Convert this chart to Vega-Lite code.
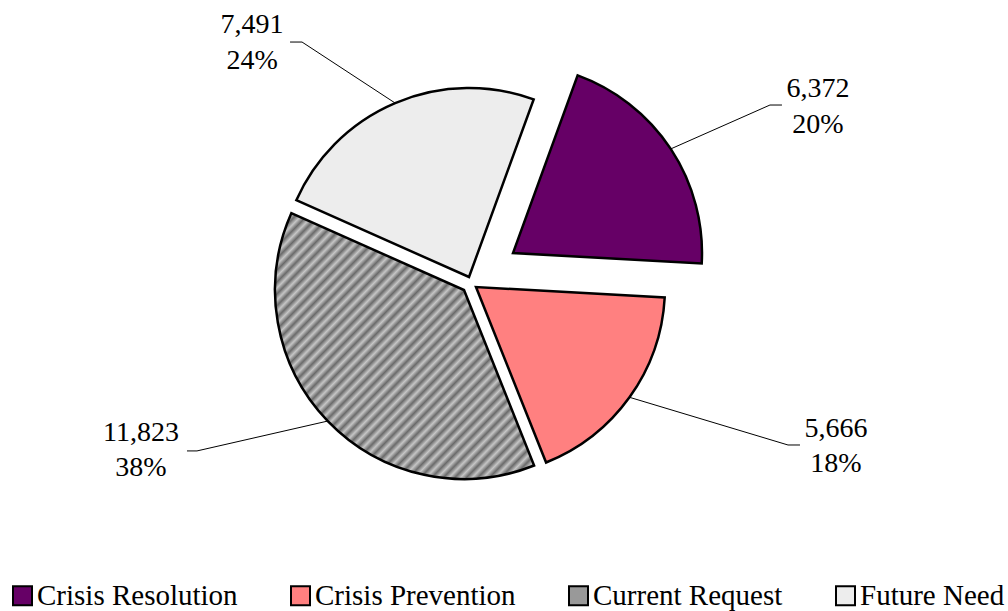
{
  "$schema": "https://vega.github.io/schema/vega-lite/v6.json",
  "width": 943,
  "height": 566,
  "autosize": {"type": "none"},
  "padding": {"left": 0, "top": 0, "right": 65, "bottom": 45},
  "background": "white",
  "config": {
    "view": {"stroke": null},
    "font": "Liberation Serif",
    "legend": {
      "orient": "none",
      "legendX": 8,
      "legendY": 581,
      "direction": "horizontal",
      "title": null,
      "symbolType": "square",
      "symbolSize": 361,
      "symbolStrokeColor": "black",
      "symbolStrokeWidth": 2,
      "symbolOpacity": 1,
      "labelFont": "Liberation Serif",
      "labelFontSize": 29,
      "labelColor": "black",
      "labelOffset": 0,
      "labelLimit": 400,
      "columnPadding": 48
    }
  },
  "data": {
    "values": [
      {"category": "Crisis Resolution", "value": 6372},
      {"category": "Crisis Prevention", "value": 5666},
      {"category": "Current Request", "value": 11823},
      {"category": "Future Need", "value": 7491}
    ]
  },
  "transform": [
    {"stack": "value", "groupby": [], "as": ["v0", "v1"]},
    {"joinaggregate": [{"op": "sum", "field": "value", "as": "total"}]},
    {"calculate": "0.3491 + PI * (datum.v0 + datum.v1) / datum.total", "as": "mid"},
    {"calculate": "189 * sin(datum.mid)", "as": "ax"},
    {"calculate": "189 * cos(datum.mid)", "as": "ay"},
    {"calculate": "format(datum.value, ',') + '\\n' + format(datum.value / datum.total, '.0%')", "as": "label"}
  ],
  "layer": [
    {
      "transform": [{"filter": "datum.category === 'Crisis Resolution'"}],
      "layer": [
        {
          "mark": {"type": "arc", "outerRadius": 189, "stroke": "black", "strokeWidth": 2.5, "xOffset": 41.5, "yOffset": -30},
          "encoding": {
            "theta": {"field": "v1", "type": "quantitative", "scale": {"nice": false, "zero": true, "range": [0.3491, 6.6323]}},
            "theta2": {"field": "v0"},
            "color": {"field": "category", "type": "nominal", "scale": {"domain": ["Crisis Resolution", "Crisis Prevention", "Current Request", "Future Need"], "range": ["#660066", "#ff8080", "#999999", "#ededed"]}}
          }
        },
        {
          "mark": {"type": "rule", "stroke": "black", "strokeWidth": 1, "xOffset": 41.5, "yOffset": -30, "x2Offset": 140.7, "y2Offset": -73.9},
          "encoding": {
            "x": {"field": "ax", "type": "quantitative", "scale": {"domain": [-471.5, 471.5], "nice": false, "zero": false}, "axis": null},
            "y": {"field": "ay", "type": "quantitative", "scale": {"domain": [-283, 283], "nice": false, "zero": false}, "axis": null},
            "x2": {"field": "ax"},
            "y2": {"field": "ay"}
          }
        },
        {
          "mark": {"type": "rule", "stroke": "black", "strokeWidth": 1, "xOffset": 140.7, "yOffset": -73.9, "x2Offset": 152.7, "y2Offset": -73.9},
          "encoding": {
            "x": {"field": "ax", "type": "quantitative", "axis": null},
            "y": {"field": "ay", "type": "quantitative", "axis": null},
            "x2": {"field": "ax"},
            "y2": {"field": "ay"}
          }
        },
        {
          "mark": {"type": "text", "fontSize": 28, "lineHeight": 35.5, "lineBreak": "\n", "align": "center", "baseline": "alphabetic", "color": "black", "xOffset": 188.7, "yOffset": -81.9},
          "encoding": {
            "x": {"field": "ax", "type": "quantitative", "axis": null},
            "y": {"field": "ay", "type": "quantitative", "axis": null},
            "text": {"field": "label"}
          }
        }
      ]
    },
    {
      "transform": [{"filter": "datum.category === 'Crisis Prevention'"}],
      "layer": [
        {
          "mark": {"type": "arc", "outerRadius": 189, "stroke": "black", "strokeWidth": 2.5, "xOffset": 4.5, "yOffset": 4},
          "encoding": {
            "theta": {"field": "v1", "type": "quantitative"},
            "theta2": {"field": "v0"},
            "color": {"field": "category", "type": "nominal"}
          }
        },
        {
          "mark": {"type": "rule", "stroke": "black", "strokeWidth": 1, "xOffset": 4.5, "yOffset": 4, "x2Offset": 163, "y2Offset": 51.7},
          "encoding": {
            "x": {"field": "ax", "type": "quantitative", "axis": null},
            "y": {"field": "ay", "type": "quantitative", "axis": null},
            "x2": {"field": "ax"},
            "y2": {"field": "ay"}
          }
        },
        {
          "mark": {"type": "rule", "stroke": "black", "strokeWidth": 1, "xOffset": 163, "yOffset": 51.7, "x2Offset": 175, "y2Offset": 51.7},
          "encoding": {
            "x": {"field": "ax", "type": "quantitative", "axis": null},
            "y": {"field": "ay", "type": "quantitative", "axis": null},
            "x2": {"field": "ax"},
            "y2": {"field": "ay"}
          }
        },
        {
          "mark": {"type": "text", "fontSize": 28, "lineHeight": 35.5, "lineBreak": "\n", "align": "center", "baseline": "alphabetic", "color": "black", "xOffset": 211, "yOffset": 43.7},
          "encoding": {
            "x": {"field": "ax", "type": "quantitative", "axis": null},
            "y": {"field": "ay", "type": "quantitative", "axis": null},
            "text": {"field": "label"}
          }
        }
      ]
    },
    {
      "transform": [{"filter": "datum.category === 'Current Request'"}],
      "layer": [
        {
          "mark": {"type": "arc", "outerRadius": 189, "stroke": "black", "strokeWidth": 2.5, "xOffset": -7.5, "yOffset": 7},
          "encoding": {
            "theta": {"field": "v1", "type": "quantitative"},
            "theta2": {"field": "v0"},
            "color": {"value": {"gradient": "linear", "x1": 0, "y1": 0, "x2": 1, "y2": 1, "stops": [{"offset": 0, "color": "#6a6a6a"}, {"offset": 0.0111, "color": "#c6c6c6"}, {"offset": 0.0222, "color": "#6a6a6a"}, {"offset": 0.0333, "color": "#c6c6c6"}, {"offset": 0.0444, "color": "#6a6a6a"}, {"offset": 0.0556, "color": "#c6c6c6"}, {"offset": 0.0667, "color": "#6a6a6a"}, {"offset": 0.0778, "color": "#c6c6c6"}, {"offset": 0.0889, "color": "#6a6a6a"}, {"offset": 0.1, "color": "#c6c6c6"}, {"offset": 0.1111, "color": "#6a6a6a"}, {"offset": 0.1222, "color": "#c6c6c6"}, {"offset": 0.1333, "color": "#6a6a6a"}, {"offset": 0.1444, "color": "#c6c6c6"}, {"offset": 0.1556, "color": "#6a6a6a"}, {"offset": 0.1667, "color": "#c6c6c6"}, {"offset": 0.1778, "color": "#6a6a6a"}, {"offset": 0.1889, "color": "#c6c6c6"}, {"offset": 0.2, "color": "#6a6a6a"}, {"offset": 0.2111, "color": "#c6c6c6"}, {"offset": 0.2222, "color": "#6a6a6a"}, {"offset": 0.2333, "color": "#c6c6c6"}, {"offset": 0.2444, "color": "#6a6a6a"}, {"offset": 0.2556, "color": "#c6c6c6"}, {"offset": 0.2667, "color": "#6a6a6a"}, {"offset": 0.2778, "color": "#c6c6c6"}, {"offset": 0.2889, "color": "#6a6a6a"}, {"offset": 0.3, "color": "#c6c6c6"}, {"offset": 0.3111, "color": "#6a6a6a"}, {"offset": 0.3222, "color": "#c6c6c6"}, {"offset": 0.3333, "color": "#6a6a6a"}, {"offset": 0.3444, "color": "#c6c6c6"}, {"offset": 0.3556, "color": "#6a6a6a"}, {"offset": 0.3667, "color": "#c6c6c6"}, {"offset": 0.3778, "color": "#6a6a6a"}, {"offset": 0.3889, "color": "#c6c6c6"}, {"offset": 0.4, "color": "#6a6a6a"}, {"offset": 0.4111, "color": "#c6c6c6"}, {"offset": 0.4222, "color": "#6a6a6a"}, {"offset": 0.4333, "color": "#c6c6c6"}, {"offset": 0.4444, "color": "#6a6a6a"}, {"offset": 0.4556, "color": "#c6c6c6"}, {"offset": 0.4667, "color": "#6a6a6a"}, {"offset": 0.4778, "color": "#c6c6c6"}, {"offset": 0.4889, "color": "#6a6a6a"}, {"offset": 0.5, "color": "#c6c6c6"}, {"offset": 0.5111, "color": "#6a6a6a"}, {"offset": 0.5222, "color": "#c6c6c6"}, {"offset": 0.5333, "color": "#6a6a6a"}, {"offset": 0.5444, "color": "#c6c6c6"}, {"offset": 0.5556, "color": "#6a6a6a"}, {"offset": 0.5667, "color": "#c6c6c6"}, {"offset": 0.5778, "color": "#6a6a6a"}, {"offset": 0.5889, "color": "#c6c6c6"}, {"offset": 0.6, "color": "#6a6a6a"}, {"offset": 0.6111, "color": "#c6c6c6"}, {"offset": 0.6222, "color": "#6a6a6a"}, {"offset": 0.6333, "color": "#c6c6c6"}, {"offset": 0.6444, "color": "#6a6a6a"}, {"offset": 0.6556, "color": "#c6c6c6"}, {"offset": 0.6667, "color": "#6a6a6a"}, {"offset": 0.6778, "color": "#c6c6c6"}, {"offset": 0.6889, "color": "#6a6a6a"}, {"offset": 0.7, "color": "#c6c6c6"}, {"offset": 0.7111, "color": "#6a6a6a"}, {"offset": 0.7222, "color": "#c6c6c6"}, {"offset": 0.7333, "color": "#6a6a6a"}, {"offset": 0.7444, "color": "#c6c6c6"}, {"offset": 0.7556, "color": "#6a6a6a"}, {"offset": 0.7667, "color": "#c6c6c6"}, {"offset": 0.7778, "color": "#6a6a6a"}, {"offset": 0.7889, "color": "#c6c6c6"}, {"offset": 0.8, "color": "#6a6a6a"}, {"offset": 0.8111, "color": "#c6c6c6"}, {"offset": 0.8222, "color": "#6a6a6a"}, {"offset": 0.8333, "color": "#c6c6c6"}, {"offset": 0.8444, "color": "#6a6a6a"}, {"offset": 0.8556, "color": "#c6c6c6"}, {"offset": 0.8667, "color": "#6a6a6a"}, {"offset": 0.8778, "color": "#c6c6c6"}, {"offset": 0.8889, "color": "#6a6a6a"}, {"offset": 0.9, "color": "#c6c6c6"}, {"offset": 0.9111, "color": "#6a6a6a"}, {"offset": 0.9222, "color": "#c6c6c6"}, {"offset": 0.9333, "color": "#6a6a6a"}, {"offset": 0.9444, "color": "#c6c6c6"}, {"offset": 0.9556, "color": "#6a6a6a"}, {"offset": 0.9667, "color": "#c6c6c6"}, {"offset": 0.9778, "color": "#6a6a6a"}, {"offset": 0.9889, "color": "#c6c6c6"}, {"offset": 1, "color": "#6a6a6a"}]}}
          }
        },
        {
          "mark": {"type": "rule", "stroke": "black", "strokeWidth": 1, "xOffset": -7.5, "yOffset": 7, "x2Offset": -138.3, "y2Offset": 36.9},
          "encoding": {
            "x": {"field": "ax", "type": "quantitative", "axis": null},
            "y": {"field": "ay", "type": "quantitative", "axis": null},
            "x2": {"field": "ax"},
            "y2": {"field": "ay"}
          }
        },
        {
          "mark": {"type": "rule", "stroke": "black", "strokeWidth": 1, "xOffset": -138.3, "yOffset": 36.9, "x2Offset": -148.3, "y2Offset": 36.9},
          "encoding": {
            "x": {"field": "ax", "type": "quantitative", "axis": null},
            "y": {"field": "ay", "type": "quantitative", "axis": null},
            "x2": {"field": "ax"},
            "y2": {"field": "ay"}
          }
        },
        {
          "mark": {"type": "text", "fontSize": 28, "lineHeight": 35.5, "lineBreak": "\n", "align": "center", "baseline": "alphabetic", "color": "black", "xOffset": -194.3, "yOffset": 26.9},
          "encoding": {
            "x": {"field": "ax", "type": "quantitative", "axis": null},
            "y": {"field": "ay", "type": "quantitative", "axis": null},
            "text": {"field": "label"}
          }
        }
      ]
    },
    {
      "transform": [{"filter": "datum.category === 'Future Need'"}],
      "layer": [
        {
          "mark": {"type": "arc", "outerRadius": 189, "stroke": "black", "strokeWidth": 2.5, "xOffset": -2.5, "yOffset": -6},
          "encoding": {
            "theta": {"field": "v1", "type": "quantitative"},
            "theta2": {"field": "v0"},
            "color": {"field": "category", "type": "nominal"}
          }
        },
        {
          "mark": {"type": "rule", "stroke": "black", "strokeWidth": 1, "xOffset": -2.5, "yOffset": -6, "x2Offset": -95.6, "y2Offset": -67},
          "encoding": {
            "x": {"field": "ax", "type": "quantitative", "axis": null},
            "y": {"field": "ay", "type": "quantitative", "axis": null},
            "x2": {"field": "ax"},
            "y2": {"field": "ay"}
          }
        },
        {
          "mark": {"type": "rule", "stroke": "black", "strokeWidth": 1, "xOffset": -95.6, "yOffset": -67, "x2Offset": -107.6, "y2Offset": -67},
          "encoding": {
            "x": {"field": "ax", "type": "quantitative", "axis": null},
            "y": {"field": "ay", "type": "quantitative", "axis": null},
            "x2": {"field": "ax"},
            "y2": {"field": "ay"}
          }
        },
        {
          "mark": {"type": "text", "fontSize": 28, "lineHeight": 35.5, "lineBreak": "\n", "align": "center", "baseline": "alphabetic", "color": "black", "xOffset": -145.6, "yOffset": -76},
          "encoding": {
            "x": {"field": "ax", "type": "quantitative", "axis": null},
            "y": {"field": "ay", "type": "quantitative", "axis": null},
            "text": {"field": "label"}
          }
        }
      ]
    }
  ]
}
